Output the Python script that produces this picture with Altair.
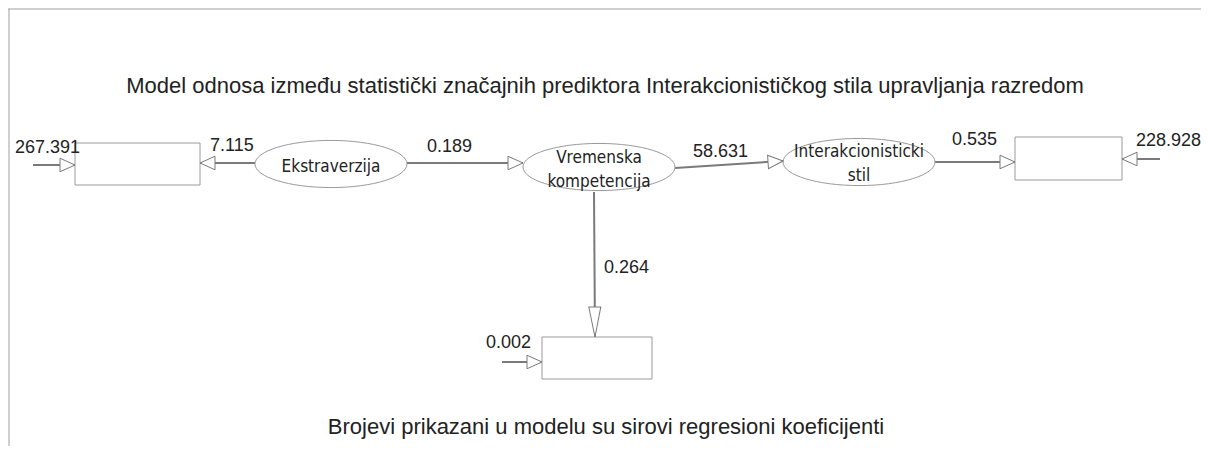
import math
import altair as alt
import pandas as pd

TITLE = "Model odnosa između statistički značajnih prediktora Interakcionističkog stila upravljanja razredom"
NOTE = "Brojevi prikazani u modelu su sirovi regresioni koeficijenti"

# latent variables (ellipses)
latent_names = ["Ekstraverzija", "Vremenska\nkompetencija", "Interakcionisticki\nstil"]
latent_cx = [331, 599, 859]
latent_cy = [164, 167, 162]
latent_text_y = [172, 163, 157]

# observed variables (boxes)
box_x1 = [75, 1015, 542]
box_x2 = [200, 1122, 652]
box_y1 = [143, 137, 337]
box_y2 = [185, 180, 379]

# paths with raw regression coefficients
coef_labels = ["7.115", "0.189", "58.631", "0.535", "0.264", "267.391", "228.928", "0.002"]
path_x1 = [255, 407, 675, 935, 594, 33, 1160, 502]
path_y1 = [163, 163, 168, 162, 192, 165, 159, 362]
path_x2 = [200, 523, 783, 1015, 595, 75, 1122, 542]
path_y2 = [163, 163, 161, 162, 337, 165, 159, 362]
label_x = [210, 427, 693, 952, 604, 15, 1136, 486]
label_y = [151, 152, 157, 145, 273, 153, 146, 348]

W, H = 1193, 438
xs = alt.Scale(domain=[8, 8 + W], nice=False, zero=False)
ys = alt.Scale(domain=[8, 8 + H], nice=False, zero=False, reverse=True)

LINE = "#7a7a7a"
BOX = "#9a9a9a"
TXT = "#222222"
NUM_FONT = "Liberation Sans"
NODE_FONT = "'DejaVu Sans Condensed', 'Liberation Sans', sans-serif"


def X(f="x"):
    return alt.X(f"{f}:Q", scale=xs, axis=None)


def Y(f="y"):
    return alt.Y(f"{f}:Q", scale=ys, axis=None)


# frame
frame_df = pd.DataFrame({"x": [8, 9], "x2": [1201, 9], "y": [9, 9], "y2": [9, 446]})
frame = alt.Chart(frame_df).mark_rule(color="#a0a0a0", strokeWidth=1).encode(
    x=X(), x2="x2:Q", y=Y(), y2="y2:Q"
)

# path data
heads = []
for i in range(len(coef_labels)):
    dx = path_x2[i] - path_x1[i]
    dy = path_y2[i] - path_y1[i]
    ang = math.degrees(math.atan2(dy, dx)) % 360
    vertical = abs(dy) > abs(dx)
    hl = 30 if vertical else 15
    shape = "M0,0 L-1,-0.2 L-1,0.2 Z" if vertical else "M0,0 L-1,-0.45 L-1,0.45 Z"
    heads.append({"x": path_x2[i], "y": path_y2[i], "angle": ang,
                  "shape": shape, "size": (2 * hl) ** 2})
path_df = pd.DataFrame({"x": path_x1, "y": path_y1, "x2": path_x2, "y2": path_y2,
                        "label": coef_labels, "lx": label_x, "ly": label_y})
head_df = pd.DataFrame(heads)

shafts = alt.Chart(path_df).mark_rule(color=LINE, strokeWidth=2).encode(
    x=X(), x2="x2:Q", y=Y(), y2="y2:Q"
)
head_marks = alt.Chart(head_df).mark_point(
    filled=False, fill="white", fillOpacity=1, stroke=LINE, strokeWidth=1, opacity=1
).encode(
    x=X(), y=Y(),
    shape=alt.Shape("shape:N", scale=None),
    size=alt.Size("size:Q", scale=None),
    angle=alt.Angle("angle:Q", scale=None),
)
coef_text = alt.Chart(path_df).mark_text(
    align="left", baseline="alphabetic", font=NUM_FONT, fontSize=18, color=TXT
).encode(x=X("lx"), y=Y("ly"), text="label:N")

# boxes
box_df = pd.DataFrame({"x": box_x1, "x2": box_x2, "y": box_y1, "y2": box_y2})
boxes = alt.Chart(box_df).mark_rect(fill="white", stroke=BOX, strokeWidth=1).encode(
    x=X(), x2="x2:Q", y=Y(), y2="y2:Q"
)

# ellipses
lat_df = pd.DataFrame({"name": latent_names, "x": latent_cx, "y": latent_cy, "ty": latent_text_y})
ellipses = alt.Chart(lat_df).mark_point(
    shape="M-1,0 A1,0.31 0 1,1 1,0 A1,0.31 0 1,1 -1,0 Z",
    size=152 ** 2, filled=False, fill="white", fillOpacity=1,
    stroke=BOX, strokeWidth=1, opacity=1,
).encode(x=X(), y=Y())
lat_text = alt.Chart(lat_df).mark_text(
    align="center", baseline="alphabetic", font=NODE_FONT, fontSize=17,
    color=TXT, lineBreak="\n", lineHeight=24,
).encode(x=X(), y=Y("ty"), text="name:N")

# title and note
txt_df = pd.DataFrame({"t": [TITLE, NOTE], "x": [605, 606], "y": [93, 434]})
titles = alt.Chart(txt_df).mark_text(
    align="center", baseline="alphabetic", font=NUM_FONT, fontSize=22, color=TXT
).encode(x=X(), y=Y(), text="t:N")

chart = alt.layer(
    frame, shafts, boxes, ellipses, head_marks, coef_text, lat_text, titles
).properties(
    width=W, height=H, padding=0, autosize=alt.AutoSizeParams(type="none")
).configure_view(stroke=None)

chart.save("out.html", embed_options={"renderer": "svg", "actions": False})
